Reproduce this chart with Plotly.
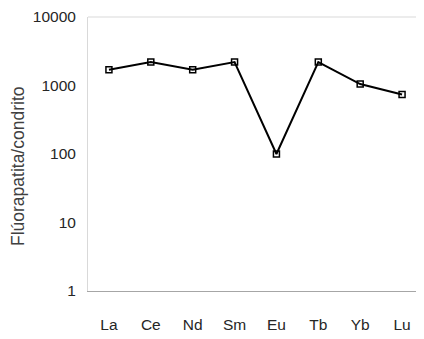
import plotly.graph_objects as go

elements = ["La", "Ce", "Nd", "Sm", "Eu", "Tb", "Yb", "Lu"]
ratio = [1700, 2200, 1700, 2200, 100, 2200, 1050, 740]
y_ticks = [1, 10, 100, 1000, 10000]
y_ticktext = ["1", "10", "100", "1000", "10000"]
y_title = "Flúorapatita/condrito"

tickfam = "Liberation Sans, Arial"

fig = go.Figure()
fig.add_trace(go.Scatter(
    x=elements, y=ratio, mode="lines+markers",
    line=dict(color="black", width=2),
    marker=dict(symbol="square-open", size=6, color="black", line=dict(width=1.5)),
    showlegend=False,
))

fig.update_layout(
    width=416, height=331,
    margin=dict(l=80, r=1, t=9, b=48),
    paper_bgcolor="white", plot_bgcolor="white",
    xaxis=dict(
        type="category", range=[-0.5, 7.5], automargin=False,
        showgrid=False, zeroline=False,
        showline=True, linecolor="#a6a6a6", linewidth=1,
        ticks="", ticklabelstandoff=19,
        tickfont=dict(family=tickfam, size=15.5, color="#262626"),
    ),
    yaxis=dict(
        type="log", range=[0, 4], automargin=False,
        tickvals=y_ticks, ticktext=y_ticktext,
        showgrid=False, zeroline=False,
        showline=True, mirror=True, linecolor="#d9d9d9", linewidth=1,
        ticks="", ticklabelstandoff=8,
        tickfont=dict(family=tickfam, size=15.5, color="#262626"),
    ),
    shapes=[dict(type="line", xref="paper", yref="paper", x0=0, x1=1, y0=1, y1=1,
                 line=dict(color="#d9d9d9", width=1))],
    annotations=[dict(text=y_title, textangle=-90, xref="paper", yref="paper",
                      x=-0.209, y=0.456, xanchor="center", yanchor="middle",
                      showarrow=False,
                      font=dict(family="Liberation Sans, Arial", size=17.5, color="#404040"))],
)

fig.write_html("out.html")
